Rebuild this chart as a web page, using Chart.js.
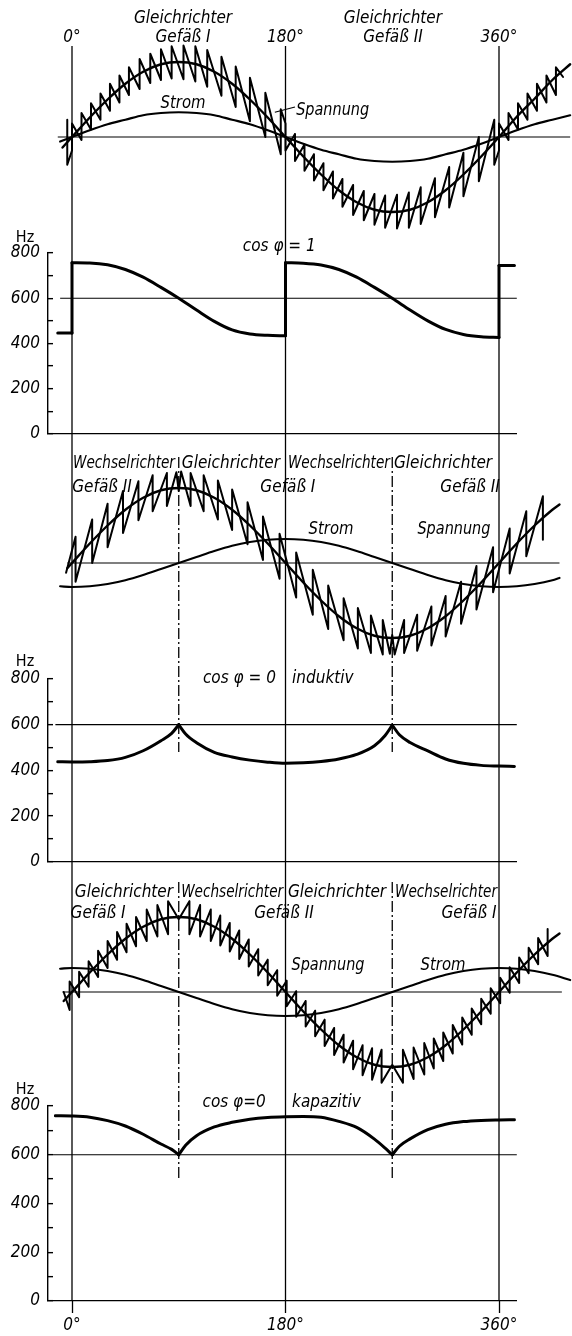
<!DOCTYPE html>
<html>
<head>
<meta charset="utf-8">
<script src="https://cdn.jsdelivr.net/npm/chart.js@4.4.1/dist/chart.umd.min.js"></script>
<style>
  body { margin: 0; background: #fff; }
  #fig { position: relative; width: 572px; height: 1336px; overflow: hidden; }
  #fig canvas { position: absolute; left: 0; }
</style>
</head>
<body>
<div id="fig"></div>
<script>
// ---- data -------------------------------------------------------------
// angles in degrees, voltage / current in arbitrary units (voltage peak = 100)
const gridDeg = [0, 15, 30, 45, 60, 75, 90, 105, 120, 135, 150, 165, 180, 195, 210, 225, 240, 255, 270, 285, 300, 315, 330, 345, 360, 375, 390, 405];
const degTicks = [0, 180, 360];
const dashDeg = [90, 270];

// cos phi = 1
const w1SpgDeg = [-8, ...gridDeg, 420];
const w1Spg = [-14, 0, 26, 50, 71, 87, 97, 100, 97, 87, 71, 50, 26, 0, -26, -50, -71, -87, -97, -100, -97, -87, -71, -50, -26, 0, 27, 51, 76, 97];
const w1StromDeg = [-10, ...gridDeg, 420];
const w1Strom = [-6, 0, 9, 17, 23, 29, 32, 33, 32, 29, 23, 17, 9, 0, -9, -17, -23, -29, -32, -33, -32, -29, -23, -17, -9, 0, 9, 17, 23, 29];
// sawtooth: at each edge the voltage goes from "from" to "to"
const w1EdgeDeg = [-4, 0, 8, 16, 24, 32, 40, 48, 57, 66, 75, 84, 94, 104, 114, 126, 138, 150, 163, 176, 180, 188, 196, 204, 212, 220, 228, 237, 246, 255, 264, 274, 284, 294, 306, 318, 330, 343, 356, 360, 368, 376, 384, 392, 400, 408, 414];
const w1EdgeFrom = [23, -18, -4, 10, 23, 35, 46, 56, 64, 72, 76, 78, 77, 74, 67, 55, 40, 21, 0, -23, 18, 4, -10, -23, -35, -46, -56, -64, -72, -76, -78, -77, -74, -67, -55, -40, -21, 0, 23, -18, -4, 10, 23, 35, 46, 56, 80];
const w1EdgeTo = [-37, 18, 32, 45, 58, 71, 82, 93, 104, 111, 117, 121, 122, 121, 116, 107, 94, 79, 59, 37, -18, -32, -45, -58, -71, -82, -93, -104, -111, -117, -121, -122, -121, -116, -107, -94, -79, -59, -37, 18, 32, 45, 58, 71, 82, 93, 80];
const hz1Deg = [[-12, 0], [0, 15, 30, 45, 60, 75, 90, 105, 120, 135, 150, 165, 180], [180, 195, 210, 225, 240, 255, 270, 285, 300, 315, 330, 345, 360], [360, 373]];
const hz1Val = [[446, 446], [757, 756, 748, 727, 693, 648, 600, 548, 498, 460, 442, 436, 434], [757, 755, 747, 727, 693, 648, 600, 548, 500, 462, 440, 430, 427], [745, 745]];

// cos phi = 0 induktiv
const w2SpgDeg = [-4, ...gridDeg, 411];
const w2Spg = [-7, 0, 26, 50, 71, 87, 97, 100, 97, 87, 71, 50, 26, 0, -26, -50, -71, -87, -97, -100, -97, -87, -71, -50, -26, 0, 26, 50, 71, 78];
const w2StromDeg = [-10, ...gridDeg, 411];
const w2Strom = [-31, -32, -31, -28, -23, -16, -8, 0, 8, 16, 23, 28, 31, 32, 31, 28, 23, 16, 8, 0, -8, -16, -23, -28, -31, -32, -31, -28, -23, -20];
const w2EdgeDeg = [-5, 3, 17, 30, 43, 56, 68, 80, 88, 90, 92, 100, 111, 123, 135, 148, 161, 175, 189, 203, 216, 229, 241, 252, 262, 268, 270, 272, 280, 291, 303, 315, 328, 341, 355, 369, 383, 397];
const w2EdgeFrom = [-13, 35, 58, 79, 96, 109, 117, 120, 121, 96, 122, 76, 69, 58, 44, 25, 4, -21, -46, -69, -88, -103, -114, -120, -122, -121, -96, -122, -76, -69, -58, -44, -25, -4, 21, 46, 69, 89];
const w2EdgeTo = [-13, -25, 0, 21, 40, 57, 69, 76, 121, 96, 122, 120, 117, 110, 98, 81, 62, 39, 14, -9, -30, -47, -60, -70, -76, -121, -96, -122, -120, -117, -110, -98, -81, -62, -39, -14, 9, 31];
const hz2Deg = [[-12, 0, 15, 30, 45, 60, 75, 84, 90], [90, 96, 105, 120, 135, 150, 165, 180, 195, 210, 225, 240, 255, 264, 270], [270, 276, 285, 300, 315, 330, 345, 360, 373]];
const hz2Val = [[438, 437, 438, 443, 457, 486, 530, 562, 600], [600, 558, 521, 479, 459, 445, 436, 431, 433, 439, 450, 470, 508, 553, 598], [598, 556, 522, 485, 450, 431, 422, 419, 417]];

// cos phi = 0 kapazitiv
const w3SpgDeg = [-7, ...gridDeg, 411];
const w3Spg = [-12, 0, 26, 50, 71, 87, 97, 100, 97, 87, 71, 50, 26, 0, -26, -50, -71, -87, -97, -100, -97, -87, -71, -50, -26, 0, 26, 50, 71, 78];
const w3StromDeg = [-10, ...gridDeg, 420];
const w3Strom = [31, 32, 31, 28, 23, 16, 8, 0, -8, -16, -23, -28, -31, -32, -31, -28, -23, -16, -8, 0, 8, 16, 23, 28, 31, 32, 31, 28, 23, 16];
const w3EdgeDeg = [-7, -2, 6, 14, 22, 30, 38, 46, 54, 63, 72, 81, 90, 99, 108, 117, 125, 133, 141, 149, 157, 165, 173, 181, 189, 197, 205, 213, 221, 229, 237, 245, 253, 261, 270, 279, 288, 297, 305, 313, 321, 329, 337, 345, 353, 361, 369, 377, 385, 393, 401];
const w3EdgeFrom = [0, -24, -7, 7, 20, 32, 43, 53, 61, 68, 74, 77, 97, 121, 116, 110, 102, 92, 82, 70, 57, 43, 29, 15, 1, -12, -25, -37, -48, -57, -65, -71, -75, -77, -97, -121, -116, -110, -102, -92, -82, -70, -57, -43, -29, -15, -1, 12, 25, 37, 48];
const w3EdgeTo = [0, 14, 27, 41, 55, 68, 80, 91, 100, 110, 116, 121, 97, 77, 74, 68, 62, 54, 44, 34, 22, 9, -5, -19, -33, -46, -59, -72, -84, -94, -103, -111, -117, -121, -97, -77, -74, -68, -62, -54, -44, -34, -22, -9, 5, 19, 33, 46, 59, 72, 84];
const hz3Deg = [[-14, 0, 15, 30, 45, 60, 75, 84, 90], [90, 96, 105, 120, 135, 150, 165, 180, 195, 210, 225, 240, 255, 264, 270], [270, 276, 285, 300, 315, 330, 345, 360, 373]];
const hz3Val = [[760, 759, 754, 740, 718, 684, 644, 622, 600], [600, 640, 678, 714, 733, 746, 753, 756, 757, 754, 737, 712, 664, 627, 600], [600, 635, 665, 703, 725, 736, 741, 743, 744]];

const hzTickStep = 100;
const hzMax = 800;

// ---- layout -----------------------------------------------------------
const W = 572;
const DEG0_X = 72, DEG360_X = 499;       // pixel columns of 0° and 360°
const UNIT_PX = 0.75;                    // px per voltage unit
const TOP_AXIS_H = 44;
const HZ_LEFT = 48, HZ_RIGHT = 517;
const INK = '#000';
const FAMILY = '"Liberation Sans Narrow", "DejaVu Sans Condensed", "Liberation Sans", sans-serif';
const TICK_FONT = { family: FAMILY, size: 17, style: 'italic' };
const LABEL_FONT = 'italic 17px ' + FAMILY;
const HZ_FONT = '16px ' + FAMILY;
const DASH = [11, 3, 2, 3];
// widths of the lettering in the original
const labelWidth = { 'Gleichrichter': 99, 'Wechselrichter': 102, 'Spannung': 73, 'Strom': 45 };

const rows = {
  w1: { top: 0, h: 240, zero: 137 },
  h1: { top: 228, h: 232, y800: 253, y0: 447 },
  w2: { top: 450, h: 210, zero: 563 },
  h2: { top: 645, h: 240, y800: 679, y0: 874 },
  w3: { top: 875, h: 215, zero: 992 },
  h3: { top: 1075, h: 261, y800: 1106, y0: 1301 }
};

const pxPerDeg = (DEG360_X - DEG0_X) / 360;
const degAt = px => (px - DEG0_X) / pxPerDeg;

Chart.defaults.color = INK;
Chart.defaults.font.family = FAMILY;

function pts(xs, ys) {
  return xs.map((x, i) => ({ x, y: ys[i] }));
}

function edgePts(deg, from, to) {
  const out = [];
  deg.forEach((d, i) => {
    out.push({ x: d, y: from[i] });
    if (to[i] !== from[i]) out.push({ x: d, y: to[i] });
  });
  return out;
}

function lineDs(data, width, smooth) {
  return {
    data,
    borderColor: INK,
    borderWidth: width,
    pointRadius: 0,
    fill: false,
    tension: 0,
    cubicInterpolationMode: smooth ? 'monotone' : 'default',
    borderJoinStyle: 'round',
    borderCapStyle: 'round',
    clip: false
  };
}

function hzSets(degs, vals) {
  const sets = degs.map((d, i) => lineDs(pts(d, vals[i]), 3, true));
  const jumps = [];
  for (let i = 1; i < degs.length; i++) {
    const pd = degs[i - 1], pv = vals[i - 1];
    jumps.push({ x: pd[pd.length - 1], y: pv[pv.length - 1] });
    jumps.push({ x: degs[i][0], y: vals[i][0] });
    jumps.push({ x: degs[i][0], y: null });
  }
  sets.push(lineDs(jumps, 3, false));
  return sets;
}

function seg(ctx, x1, y1, x2, y2) {
  ctx.beginPath();
  ctx.moveTo(x1, y1);
  ctx.lineTo(x2, y2);
  ctx.stroke();
}

// reference lines, dash-dot lines and lettering
function decorPlugin(row, cfg) {
  return {
    id: 'decor',
    beforeDatasetsDraw(chart) {
      const { ctx } = chart;
      const x = chart.scales.x, y = chart.scales.y;
      ctx.save();
      ctx.strokeStyle = INK;
      ctx.lineWidth = 1.3;
      degTicks.forEach(d => {
        const px = x.getPixelForValue(d);
        seg(ctx, px, cfg.vSpan[0] - row.top, px, cfg.vSpan[1] - row.top);
      });
      if (cfg.dash) {
        const [s, e, start] = cfg.dash;
        ctx.setLineDash(DASH);
        ctx.lineDashOffset = s - start;
        dashDeg.forEach(d => {
          const px = x.getPixelForValue(d);
          seg(ctx, px, s - row.top, px, e - row.top);
        });
        ctx.setLineDash([]);
      }
      ctx.lineWidth = 1.2;
      (cfg.refs || []).forEach(([v, d0, d1]) => {
        const py = y.getPixelForValue(v);
        seg(ctx, x.getPixelForValue(d0), py, x.getPixelForValue(d1), py);
      });
      if (cfg.leader) {
        const [d0, v0, d1, v1] = cfg.leader;
        seg(ctx, x.getPixelForValue(d0), y.getPixelForValue(v0), x.getPixelForValue(d1), y.getPixelForValue(v1));
      }
      ctx.restore();
    },
    afterDraw(chart) {
      const { ctx } = chart;
      const x = chart.scales.x, y = chart.scales.y;
      ctx.save();
      ctx.fillStyle = INK;
      ctx.textBaseline = 'middle';
      (cfg.texts || []).forEach(([t, d, v, align, font]) => {
        ctx.font = font || LABEL_FONT;
        ctx.textAlign = align || 'center';
        const maxW = labelWidth[t];
        if (maxW) ctx.fillText(t, x.getPixelForValue(d), y.getPixelForValue(v), maxW);
        else ctx.fillText(t, x.getPixelForValue(d), y.getPixelForValue(v));
      });
      ctx.restore();
    }
  };
}

function addCanvas(id, row) {
  const c = document.createElement('canvas');
  c.id = id;
  c.width = W;
  c.height = row.h;
  c.style.top = row.top + 'px';
  document.getElementById('fig').appendChild(c);
  return c;
}

const degLabel = v => v + '°';

function makeWave(id, row, sets, cfg, topAxis) {
  const c = addCanvas(id, row);
  const zeroLocal = row.zero - row.top;
  const axisH = topAxis ? TOP_AXIS_H : 0;
  return new Chart(c, {
    type: 'line',
    data: { datasets: sets },
    options: {
      responsive: false,
      animation: false,
      events: [],
      layout: { padding: 0 },
      plugins: { legend: { display: false }, tooltip: { enabled: false } },
      scales: {
        x: {
          type: 'linear',
          position: 'top',
          display: topAxis,
          min: degAt(0),
          max: degAt(W),
          afterBuildTicks: s => { s.ticks = degTicks.map(v => ({ value: v })); },
          afterFit: s => { s.height = axisH; },
          grid: { display: false, drawTicks: false },
          border: { display: false },
          ticks: { font: TICK_FONT, padding: -4, autoSkip: false, maxRotation: 0, callback: degLabel }
        },
        y: {
          display: false,
          min: -(row.h - zeroLocal) / UNIT_PX,
          max: (zeroLocal - axisH) / UNIT_PX
        }
      }
    },
    plugins: [decorPlugin(row, cfg)]
  });
}

function makeHz(id, row, sets, cfg, bottomAxis) {
  const c = addCanvas(id, row);
  const bottomH = row.top + row.h - row.y0;
  return new Chart(c, {
    type: 'line',
    data: { datasets: sets },
    options: {
      responsive: false,
      animation: false,
      events: [],
      layout: { padding: { top: row.y800 - row.top, right: W - HZ_RIGHT, bottom: bottomAxis ? 0 : bottomH, left: 0 } },
      plugins: { legend: { display: false }, tooltip: { enabled: false } },
      scales: {
        x: {
          type: 'linear',
          position: 'bottom',
          display: bottomAxis,
          min: degAt(HZ_LEFT),
          max: degAt(HZ_RIGHT),
          afterBuildTicks: s => { s.ticks = degTicks.map(v => ({ value: v })); },
          afterFit: s => { s.height = bottomH; },
          grid: { drawOnChartArea: false, tickLength: 12, tickColor: INK, tickWidth: 1.3 },
          border: { display: false },
          ticks: { font: TICK_FONT, padding: 2, autoSkip: false, maxRotation: 0, callback: degLabel }
        },
        y: {
          min: 0,
          max: hzMax,
          afterFit: s => { s.width = HZ_LEFT; },
          border: { color: INK, width: 1.4 },
          grid: {
            color: ctx => (ctx.tick && ctx.tick.value === 0 ? INK : 'rgba(0,0,0,0)'),
            lineWidth: 1.3,
            tickLength: -5,
            tickColor: INK,
            tickWidth: 1.4
          },
          ticks: {
            stepSize: hzTickStep,
            autoSkip: false,
            padding: 13,
            font: TICK_FONT,
            callback: v => (v % 200 === 0 ? String(v) : '')
          }
        }
      }
    },
    plugins: [decorPlugin(row, cfg)]
  });
}

// ---- panel 1 : cos phi = 1 ----
makeWave('w1', rows.w1, [
  lineDs(edgePts(w1EdgeDeg, w1EdgeFrom, w1EdgeTo), 2, false),
  lineDs(pts(w1SpgDeg, w1Spg), 2.4, true),
  lineDs(pts(w1StromDeg, w1Strom), 2.2, true)
], {
  vSpan: [46, 234],
  refs: [[0, -12, 420]],
  leader: [171, 33, 188, 40],
  texts: [
    ['Gleichrichter', 93.6, 158], ['Gefäß I', 93.6, 132],
    ['Gleichrichter', 270.6, 158], ['Gefäß II', 270.6, 132],
    ['Strom', 93.6, 45], ['Spannung', 189, 35, 'left']
  ]
}, true);

makeHz('h1', rows.h1, hzSets(hz1Deg, hz1Val), {
  vSpan: [234, 455],
  refs: [[600, -10, 375]],
  texts: [['Hz', -39.6, 866, 'center', HZ_FONT], ['cos φ = 1', 144, 829, 'left']]
}, false);

// ---- panel 2 : cos phi = 0 induktiv ----
makeWave('w2', rows.w2, [
  lineDs(edgePts(w2EdgeDeg, w2EdgeFrom, w2EdgeTo), 2, false),
  lineDs(pts(w2SpgDeg, w2Spg), 2.4, true),
  lineDs(pts(w2StromDeg, w2Strom), 2.2, true)
], {
  vSpan: [455, 652],
  dash: [457, 652, 457],
  refs: [[0, -4, 411]],
  texts: [
    ['Wechselrichter', 43.8, 132], ['Gleichrichter', 134, 132],
    ['Wechselrichter', 225, 132], ['Gleichrichter', 312.8, 132],
    ['Gefäß II', 25.3, 101], ['Gefäß I', 182, 101], ['Gefäß II', 335.6, 101],
    ['Strom', 218.4, 44], ['Spannung', 322, 44]
  ]
}, false);

makeHz('h2', rows.h2, hzSets(hz2Deg, hz2Val), {
  vSpan: [652, 880],
  dash: [652, 752, 457],
  refs: [[600, -14, 375]],
  texts: [['Hz', -39.6, 874, 'center', HZ_FONT], ['cos φ = 0', 110.4, 800, 'left'], ['induktiv', 185.5, 800, 'left']]
}, false);

// ---- panel 3 : cos phi = 0 kapazitiv ----
makeWave('w3', rows.w3, [
  lineDs(edgePts(w3EdgeDeg, w3EdgeFrom, w3EdgeTo), 2, false),
  lineDs(pts(w3SpgDeg, w3Spg), 2.4, true),
  lineDs(pts(w3StromDeg, w3Strom), 2.2, true)
], {
  vSpan: [880, 1083],
  dash: [882, 1083, 882],
  refs: [[0, -8, 413]],
  texts: [
    ['Gleichrichter', 43.8, 132], ['Wechselrichter', 135, 132],
    ['Gleichrichter', 223.4, 132], ['Wechselrichter', 315.3, 132],
    ['Gefäß I', 22, 104], ['Gefäß II', 178.7, 104], ['Gefäß I', 334.7, 104],
    ['Spannung', 215.8, 35], ['Strom', 312.8, 35]
  ]
}, false);

makeHz('h3', rows.h3, hzSets(hz3Deg, hz3Val), {
  vSpan: [1083, 1301],
  dash: [1083, 1180, 882],
  refs: [[600, -16, 375]],
  texts: [['Hz', -39.6, 866, 'center', HZ_FONT], ['cos φ=0', 110, 816, 'left'], ['kapazitiv', 185.5, 812, 'left']]
}, true);
</script>
</body>
</html>
